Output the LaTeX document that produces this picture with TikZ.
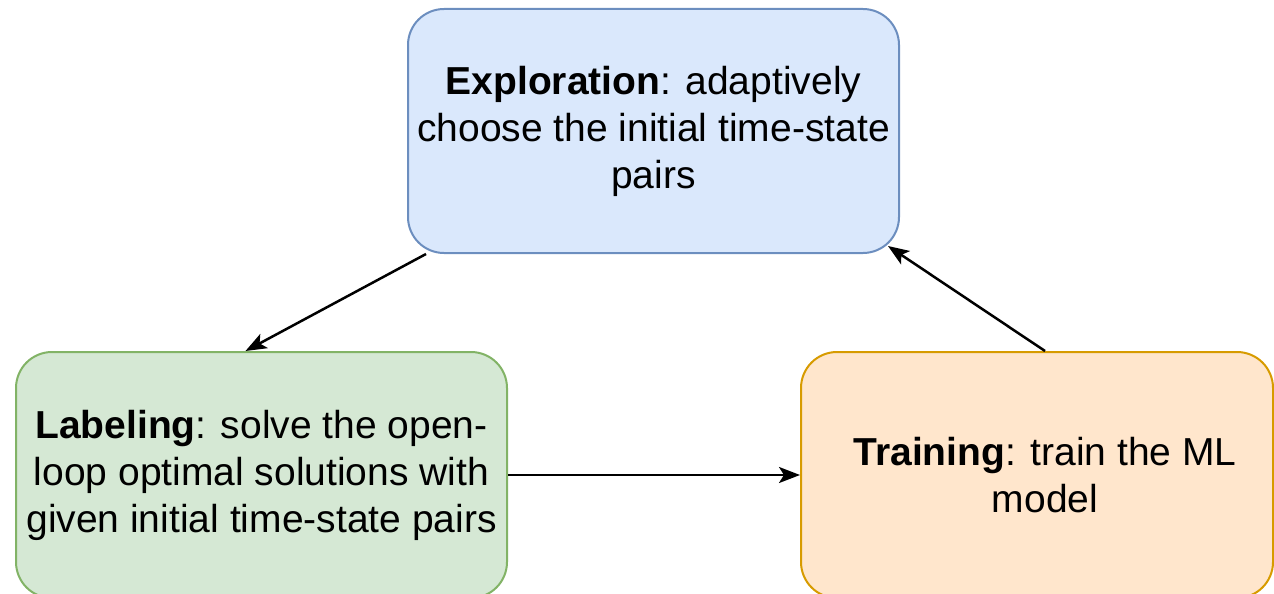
\documentclass[tikz,border=0pt]{standalone}
\usepackage{fontspec}
\setmainfont{Liberation Sans}
\usetikzlibrary{arrows.meta}
\definecolor{explfill}{HTML}{DAE8FC}
\definecolor{expldraw}{HTML}{6C8EBF}
\definecolor{labfill}{HTML}{D5E8D4}
\definecolor{labdraw}{HTML}{82B366}
\definecolor{trainfill}{HTML}{FFE6CC}
\definecolor{traindraw}{HTML}{D79B00}

\begin{document}
\begin{tikzpicture}[x=1pt,y=-1pt,
		box/.style={rectangle,rounded corners=36pt,line width=2pt,align=center,inner sep=0pt,
			minimum height=246pt,font=\fontsize{39}{47}\selectfont},
		arr/.style={-{Stealth[length=21pt,width=16pt,inset=5pt]},line width=2.5pt}]
			\useasboundingbox (0,0) rectangle (1274,594);

			% the three stages of the loop
			\node[box,draw=expldraw,fill=explfill,minimum width=491pt,minimum height=244pt] (expl) at (653.5,131)
				{\textbf{Exploration}: adaptively\\choose the initial time-state\\pairs};
			\node[box,draw=labdraw,fill=labfill,minimum width=491pt] (lab) at (261.5,475)
				{\textbf{Labeling}: solve the open-\\loop optimal solutions with\\given initial time-state pairs};
			\node[box,draw=traindraw,fill=trainfill,minimum width=472pt] (train) at (1037,475)
				{\hspace*{16pt}\textbf{Training}: train the ML\\\hspace*{16pt}model};

			\draw[arr] ([xshift=19pt]expl.south west) -- ([xshift=-16pt]lab.north);
			\draw[arr] (lab.east) -- (train.west);
			\draw[arr] ([xshift=8pt]train.north) -- ([xshift=-12pt,yshift=8pt]expl.south east);
		\end{tikzpicture}
\end{document}
